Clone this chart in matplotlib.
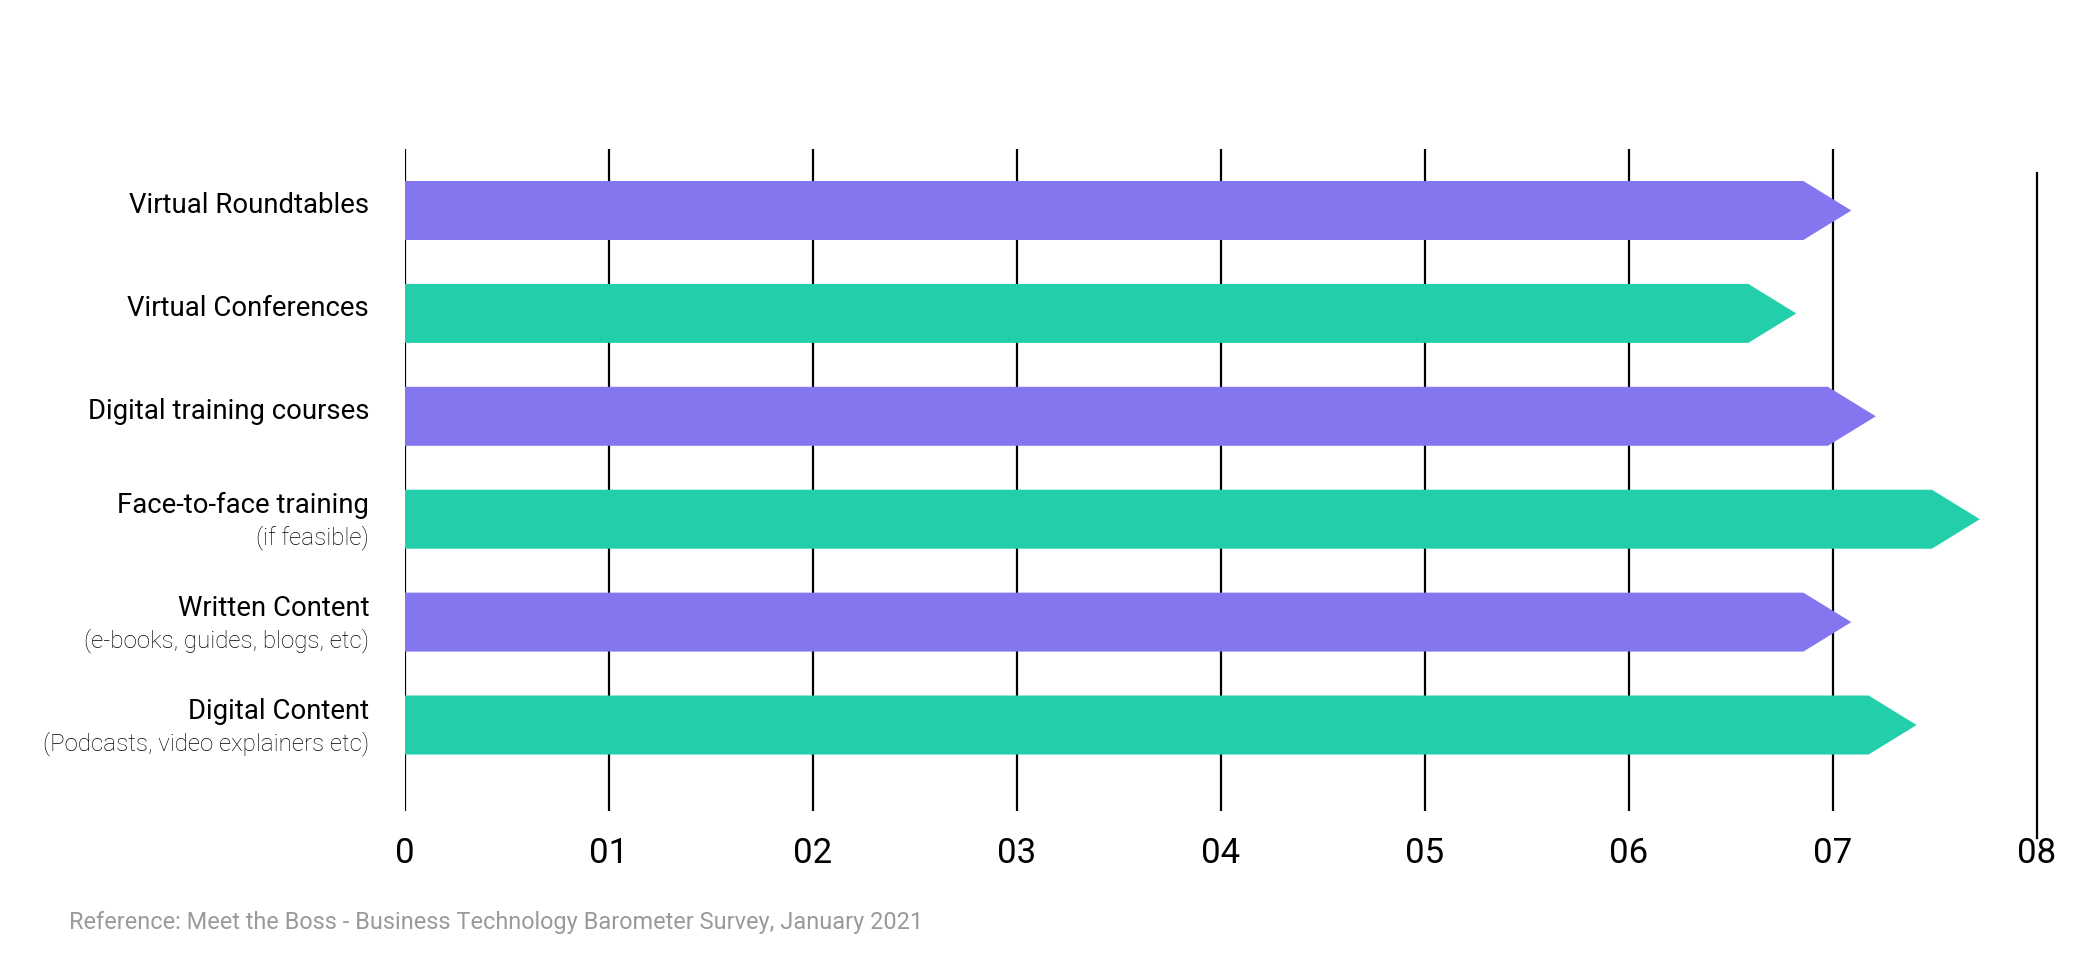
import matplotlib
matplotlib.use("Agg")
import matplotlib.pyplot as plt
from matplotlib.patches import Polygon

plt.rcParams['font.family'] = ['Roboto', 'DejaVu Sans']

# data, top to bottom
categories = ["Virtual Roundtables", "Virtual Conferences", "Digital training courses",
              "Face-to-face training", "Written Content", "Digital Content"]
subtitles = ["", "", "", "(if feasible)", "(e-books, guides, blogs, etc)",
             "(Podcasts, video explainers etc)"]
values = [7.09, 6.82, 7.21, 7.72, 7.09, 7.41]
tick_labels = ["0", "01", "02", "03", "04", "05", "06", "07", "08"]
source = "Reference: Meet the Boss - Business Technology Barometer Survey, January 2021"

purple = "#8476EF"
green = "#23CFAA"
colors = [purple, green] * 3

fig = plt.figure(figsize=(20.83, 9.58), dpi=100)
ax = fig.add_axes([0.1944, 0.1534, 0.9779 - 0.1944, 0.8445 - 0.1534])
ax.set_xlim(0, 8)
ax.set_ylim(5.836, -0.598)

# grid lines
ax.vlines(range(8), -0.598, 5.836, color="black", lw=1.6, zorder=1)
ax.axvline(8, ymin=-0.04, ymax=0.963, color="black", lw=1.6, clip_on=False, zorder=1)

h = 0.573
head = 0.235
for i, (v, c) in enumerate(zip(values, colors)):
    pts = [(0, i - h / 2), (v - head, i - h / 2), (v, i), (v - head, i + h / 2), (0, i + h / 2)]
    ax.add_patch(Polygon(pts, closed=True, facecolor=c, edgecolor="none", zorder=2))

for i, (cat, sub) in enumerate(zip(categories, subtitles)):
    if sub:
        ax.text(-0.175, i - 0.058, cat, ha="right", va="baseline", fontsize=19.8, color="black")
        ax.text(-0.175, i + 0.243, sub, ha="right", va="baseline", fontsize=17.4,
                fontweight="light", color="black")
    else:
        ax.text(-0.175, i + 0.025, cat, ha="right", va="baseline", fontsize=19.8, color="black")

ax.set_xticks(range(9))
ax.set_xticklabels(tick_labels, fontsize=25)
ax.tick_params(axis="x", length=0, pad=18.5)
ax.set_yticks([])
for s in ax.spines.values():
    s.set_visible(False)

fig.text(69 / 2083, 1 - 929 / 958, source, fontsize=16.9, color="#9a9a9a", ha="left", va="baseline")

fig.savefig("out.png", dpi=100)
